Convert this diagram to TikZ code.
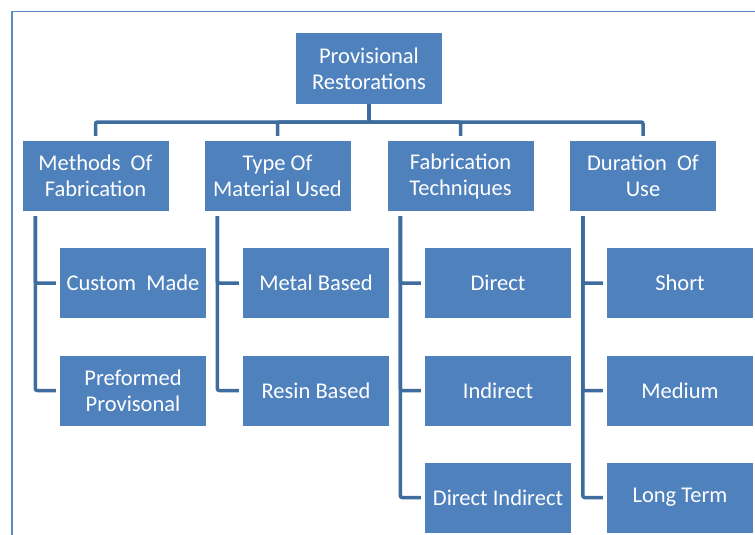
\documentclass[tikz,border=0pt]{standalone}
\usepackage{fontspec}
\setmainfont{Carlito}
\definecolor{boxblue}{HTML}{4F81BD}
\definecolor{linkblue}{HTML}{3F6C9F}
\definecolor{framecol}{HTML}{5B8AC4}
\tikzset{
  caja/.style={fill=boxblue, text=white, minimum width=146pt, minimum height=70pt,
    inner sep=0pt, align=center, font=\fontsize{22.5}{26}\selectfont},
  enlace/.style={draw=linkblue, line width=3.5pt, rounded corners=2pt}
}
\begin{document}
\begin{tikzpicture}[x=1pt,y=-1pt]
    \useasboundingbox (0,0) rectangle (755,535);

    % Dibuja el marco
    \draw[framecol, line width=1.6pt] (12,540) -- (12,11.5) -- (760,11.5);

    % Dibuja la caja principal
    \node[caja] (root) at (369,68.5) {Provisional\\Restorations};

    % Dibuja las categorias
    \node[caja] (m1) at (95.5,176) {Methods\ \ Of\\Fabrication};
    \node[caja] (m2) at (277.5,176) {Type Of\\Material Used};
    \node[caja] (m3) at (460.5,176) {Fabrication\\Techniques};
    \node[caja] (m4) at (643,176) {Duration\ \ Of\\Use};

    % Dibuja las subcategorias
    \node[caja] (c11) at (133,283) {Custom\ \ Made};
    \node[caja] (c12) at (133,390.5) {Preformed\\Provisonal};
    \node[caja] (c21) at (316,283) {Metal Based};
    \node[caja] (c22) at (316,390.5) {Resin Based};
    \node[caja] (c31) at (498,283) {Direct};
    \node[caja] (c32) at (498,390.5) {Indirect};
    \node[caja] (c33) at (498,497.5) {Direct Indirect};
    \node[caja] (c41) at (680,283) {Short};
    \node[caja] (c42) at (680,390.5) {Medium};
    \node[caja] (c43) at (680,497.5) {Long Term};

    % Dibuja los enlaces
    \coordinate (bar) at (369,122);
    \draw[enlace] (root.south) -- (bar);
    \foreach \m in {m1,m2,m3,m4}
        \draw[enlace] (bar) -| ([yshift=5pt]\m.north);
    \foreach \m/\c in {m1/c11,m1/c12,m2/c21,m2/c22,m3/c31,m3/c32,m3/c33,m4/c41,m4/c42,m4/c43}
        \draw[enlace] ([xshift=13pt,yshift=-5pt]\m.south west) |- ([xshift=-4pt]\c.west);
\end{tikzpicture}
\end{document}
